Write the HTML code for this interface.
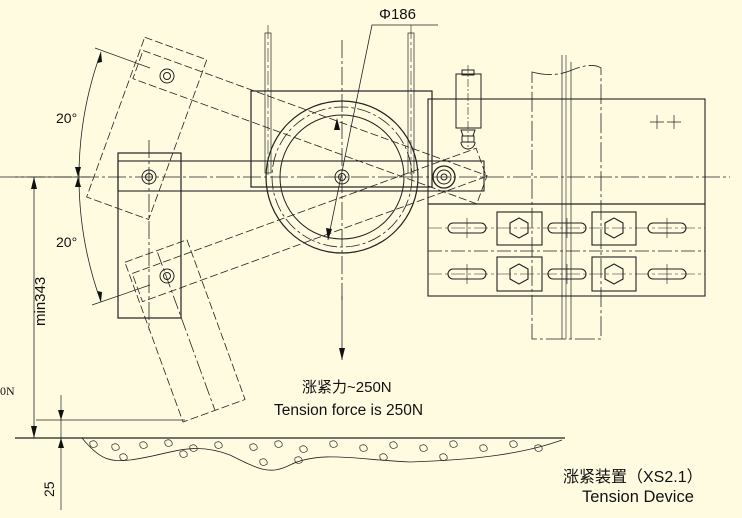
<!DOCTYPE html>
<html><head><meta charset="utf-8"><style>
html,body{margin:0;padding:0;background:#FFFBE0;}
svg{display:block}
text{font-family:"Liberation Sans","Noto Sans CJK SC",sans-serif;fill:#111}
</style></head><body>
<svg width="742" height="518" viewBox="0 0 742 518" xmlns="http://www.w3.org/2000/svg">
<rect width="742" height="518" fill="#FFFBE0"/>
<g fill="none" stroke="#222" stroke-width="1">
<line x1="0" y1="177" x2="730" y2="177" stroke-dasharray="18,3,3,3" stroke-width="0.8"/>
<line x1="342" y1="40" x2="342" y2="300" stroke-dasharray="18,3,3,3" stroke-width="0.8"/>
<line x1="149" y1="140" x2="149" y2="330" stroke-dasharray="18,3,3,3" stroke-width="0.8"/>
<rect x="265" y="33" width="6" height="140" stroke-width="0.7"/>
<rect x="408" y="33" width="6" height="140" stroke-width="0.7"/>
<line x1="268" y1="25" x2="268" y2="175" stroke-dasharray="14,3,3,3" stroke-width="0.6"/>
<line x1="411" y1="25" x2="411" y2="175" stroke-dasharray="14,3,3,3" stroke-width="0.6"/>
<rect x="251" y="91" width="181" height="96" stroke-width="1.2"/>
<circle cx="342" cy="177" r="76" stroke-width="1.2"/>
<circle cx="342" cy="177" r="70" stroke-dasharray="14,3,3,3" stroke-width="0.8"/>
<circle cx="342" cy="177" r="62" stroke-width="1"/>
<rect x="118" y="161" width="366" height="30" stroke-width="1.1"/>
<rect x="118" y="153" width="63" height="165" stroke-width="1.2"/>
<circle cx="149" cy="177" r="7"/><circle cx="149" cy="177" r="3.5"/>
<circle cx="342" cy="177" r="7"/><circle cx="342" cy="177" r="3.5"/>
<circle cx="444" cy="177" r="11" stroke-width="1.3"/><circle cx="444" cy="177" r="7"/><circle cx="444" cy="177" r="3"/>
<g transform="rotate(20 444 177)" stroke-dasharray="8,3" stroke-width="0.8">
<rect x="118" y="161" width="366" height="30"/>
<rect x="115" y="148" width="66" height="170"/>
</g>
<g transform="rotate(-20 444 177)" stroke-dasharray="8,3" stroke-width="0.8">
<rect x="118" y="161" width="366" height="30"/>
<rect x="115" y="148" width="66" height="170"/>
<line x1="149" y1="150" x2="149" y2="318" stroke-dasharray="14,3,3,3"/>
</g>
<circle cx="167" cy="76" r="7"/><circle cx="167" cy="76" r="3.5"/>
<circle cx="167" cy="276" r="7"/><circle cx="167" cy="276" r="3.5"/>
<polyline points="438,25 372,25 328,240" stroke-width="0.8"/>
<rect x="456" y="74" width="25" height="54" stroke-width="1"/>
<rect x="462" y="70" width="12" height="5"/>
<line x1="468" y1="65" x2="468" y2="150" stroke-dasharray="8,2,2,2" stroke-width="0.6"/>
<path d="M461,130 h14 l-2,6 h-10 z M462,136 h12 v6 h-12z M461,142 a7,7 0 0 0 14,0"/>
<line x1="432" y1="99" x2="456" y2="99"/>
<rect x="428" y="99" width="277" height="197" stroke-width="1.1"/>
<line x1="428" y1="204" x2="705" y2="204" stroke-width="1.3"/>
<line x1="428" y1="251" x2="705" y2="251" stroke-dasharray="14,3,3,3" stroke-width="0.7"/>
<line x1="428" y1="228" x2="705" y2="228" stroke-dasharray="14,3,3,3" stroke-width="0.6"/>
<line x1="428" y1="274" x2="705" y2="274" stroke-dasharray="14,3,3,3" stroke-width="0.6"/>
<path d="M650,122 h14 M657,115 v14 M667,122 h14 M674,115 v14" stroke-width="0.7"/>
<path d="M532,72 q22,6 40,-2 q20,-8 29,-2 V339 H532 Z" stroke-dasharray="20,3,3,3" stroke-width="0.8"/>
<line x1="562" y1="55" x2="562" y2="339" stroke-width="0.7"/>
<line x1="566" y1="55" x2="566" y2="339" stroke-width="0.6"/>
<line x1="571" y1="62" x2="571" y2="339" stroke-width="0.7"/>
<g stroke-width="1.1">
<rect x="448" y="223" width="38" height="10" rx="5"/><rect x="548" y="223" width="38" height="10" rx="5"/><rect x="648" y="223" width="38" height="10" rx="5"/>
<rect x="448" y="269" width="38" height="10" rx="5"/><rect x="548" y="269" width="38" height="10" rx="5"/><rect x="648" y="269" width="38" height="10" rx="5"/>
<rect x="497" y="212" width="45" height="33"/><rect x="592" y="212" width="44" height="33"/>
<rect x="497" y="257" width="45" height="34"/><rect x="592" y="257" width="44" height="34"/>
<polygon points="519,218 528,223 528,233 519,238 510,233 510,223"/>
<polygon points="614,218 623,223 623,233 614,238 605,233 605,223"/>
<polygon points="519,264 528,269 528,279 519,284 510,279 510,269"/>
<polygon points="614,264 623,269 623,279 614,284 605,279 605,269"/>
</g>
<path d="M467,218 v20 M567,218 v20 M667,218 v20 M467,264 v20 M567,264 v20 M667,264 v20" stroke-width="0.6"/>
<path d="M101,52 A366,366 0 0 0 101,302" stroke-width="0.8"/>
<line x1="95" y1="48" x2="150" y2="68" stroke-width="0.7"/>
<line x1="92" y1="305" x2="150" y2="285" stroke-width="0.7"/>
<line x1="15" y1="177" x2="90" y2="177" stroke-width="0.7"/>
<line x1="342" y1="296" x2="342" y2="360" stroke-width="0.8"/>
<line x1="34" y1="177" x2="34" y2="438" stroke-width="0.8"/>
<line x1="36" y1="420" x2="185" y2="420" stroke-width="0.7"/>
<line x1="61" y1="395" x2="61" y2="510" stroke-width="0.7"/>
<line x1="15" y1="438" x2="565" y2="438" stroke-width="1.2"/>
<path d="M82,438 C100,460 110,462 130,460 C170,455 190,440 230,455 C260,470 270,475 290,465 C320,450 360,460 410,462 C470,460 520,455 562,440" stroke-width="0.8"/>
<g stroke-width="0.7">
<path d="M90,442 c4,-3 8,0 7,4 c-4,3 -8,1 -7,-4z M112,445 c4,-3 8,0 7,4 c-4,3 -8,1 -7,-4z M140,443 c4,-3 8,0 7,4 c-4,3 -8,1 -7,-4z M165,441 c4,-3 8,0 7,4 c-4,3 -8,1 -7,-4z M190,446 c4,-3 8,0 7,4 c-4,3 -8,1 -7,-4z M215,443 c4,-3 8,0 7,4 c-4,3 -8,1 -7,-4z M250,445 c4,-3 8,0 7,4 c-4,3 -8,1 -7,-4z M275,442 c4,-3 8,0 7,4 c-4,3 -8,1 -7,-4z M300,447 c4,-3 8,0 7,4 c-4,3 -8,1 -7,-4z M330,442 c4,-3 8,0 7,4 c-4,3 -8,1 -7,-4z M360,446 c4,-3 8,0 7,4 c-4,3 -8,1 -7,-4z M390,443 c4,-3 8,0 7,4 c-4,3 -8,1 -7,-4z M420,446 c4,-3 8,0 7,4 c-4,3 -8,1 -7,-4z M450,442 c4,-3 8,0 7,4 c-4,3 -8,1 -7,-4z M480,446 c4,-3 8,0 7,4 c-4,3 -8,1 -7,-4z M510,442 c4,-3 8,0 7,4 c-4,3 -8,1 -7,-4z M535,446 c4,-3 8,0 7,4 c-4,3 -8,1 -7,-4z M120,455 c4,-3 8,0 7,4 c-4,3 -8,1 -7,-4z M180,452 c4,-3 8,0 7,4 c-4,3 -8,1 -7,-4z M260,460 c4,-3 8,0 7,4 c-4,3 -8,1 -7,-4z M295,458 c4,-3 8,0 7,4 c-4,3 -8,1 -7,-4z M380,455 c4,-3 8,0 7,4 c-4,3 -8,1 -7,-4z M440,455 c4,-3 8,0 7,4 c-4,3 -8,1 -7,-4z"/>
</g>
</g>
<g fill="#111">
<polygon points="101,52 97,63 102,62"/>
<polygon points="101,302 97,291 102,292"/>
<polygon points="78,177 75,167 81,167"/>
<polygon points="78,177 75,187 81,187"/>
<polygon points="342,360 339,348 345,348"/>
<polygon points="34,438 31,426 37,426"/>
<polygon points="34,177 31,189 37,189"/>
<polygon points="61,420 58,410 64,410"/>
<polygon points="61,438 58,448 64,448"/>
<polygon points="337,118 334,130 340,130"/>
<polygon points="328,240 326,228 332,229"/>
</g>
<text x="379" y="19" font-size="15">Φ186</text>
<text x="56" y="123" font-size="14">20°</text>
<text x="56" y="247" font-size="14">20°</text>
<text x="0" y="395" font-size="12" style="font-family:'Liberation Serif',serif">0N</text>
<text transform="translate(45,326) rotate(-90)" font-size="15">min343</text>
<text transform="translate(54,497) rotate(-90)" font-size="14">25</text>
<text x="302" y="392" font-size="15">涨紧力~250N</text>
<text x="274" y="415" font-size="15.5">Tension force is 250N</text>
<text x="563" y="482" font-size="16">涨紧装置（XS2.1）</text>
<text x="582" y="502" font-size="16.5">Tension Device</text>
</svg>
</body></html>
